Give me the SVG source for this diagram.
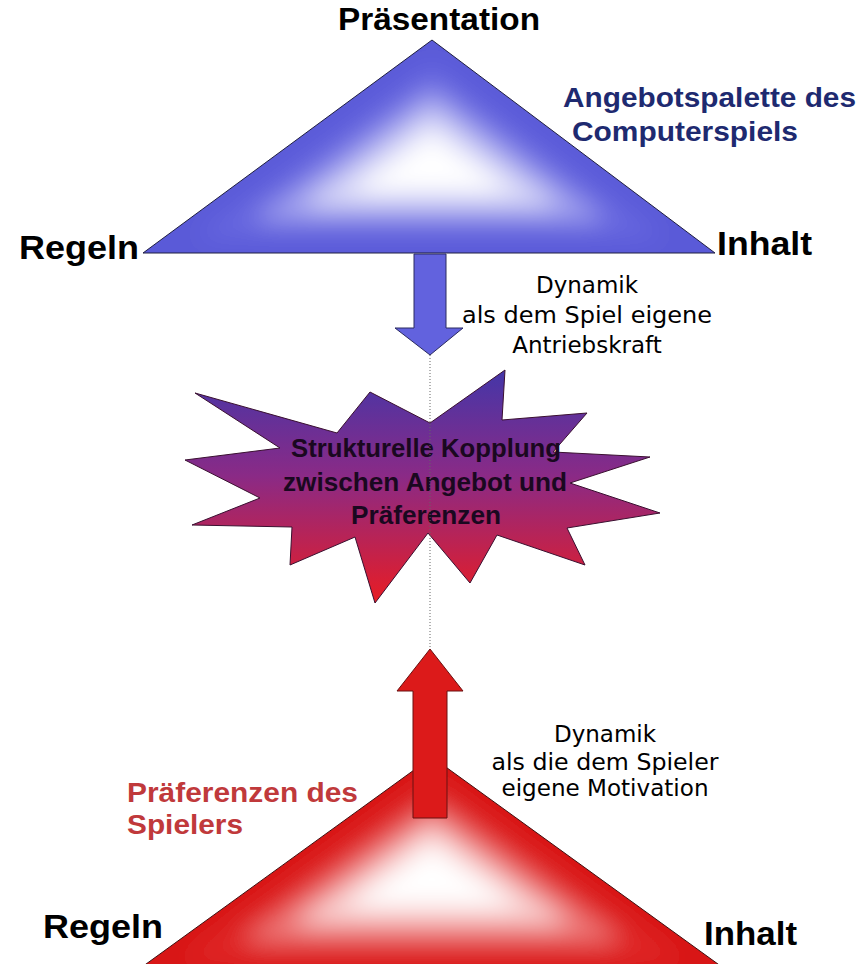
<svg xmlns="http://www.w3.org/2000/svg" xmlns:xlink="http://www.w3.org/1999/xlink" width="864" height="964" viewBox="0 0 864 964">
<style>
.lbl{font-family:"Liberation Sans",Arial,sans-serif;font-weight:bold;fill:#000}
.blue{font-family:"Liberation Sans",Arial,sans-serif;font-weight:bold;fill:#1e2a70}
.red{font-family:"Liberation Sans",Arial,sans-serif;font-weight:bold;fill:#c0393b}
.dyn{font-family:"DejaVu Sans","Liberation Sans",sans-serif;font-size:23px;fill:#000;text-anchor:middle}
.star{font-family:"Liberation Sans",Arial,sans-serif;font-weight:bold;font-size:25px;fill:#1a0820;text-anchor:middle}
</style>
<defs>
<polygon id="triT" points="432,40 143,253 715,253"/>
<polygon id="triB" points="432,757 124,980 740,980"/>
<clipPath id="clipT"><use xlink:href="#triT"/></clipPath>
<clipPath id="clipB"><use xlink:href="#triB"/></clipPath>
<filter id="soft" x="-20%" y="-20%" width="140%" height="140%"><feGaussianBlur stdDeviation="12"/></filter>
<linearGradient id="starGrad" gradientUnits="userSpaceOnUse" x1="0" y1="370" x2="0" y2="605">
<stop offset="0" stop-color="#4436a8"/>
<stop offset="0.45" stop-color="#8a2a86"/>
<stop offset="1" stop-color="#ea1c22"/>
</linearGradient>
</defs>
<rect width="864" height="964" fill="#fff"/>

<g id="node-top-triangle">
<g clip-path="url(#clipT)">
<g filter="url(#soft)">
<use xlink:href="#triT" fill="#5a5ad8" transform="translate(432 168) scale(1.5) translate(-432 -168)"/>
<use xlink:href="#triT" fill="#6868e0" transform="translate(432 168) scale(0.82) translate(-432 -168)"/>
<use xlink:href="#triT" fill="#a0a0ee" transform="translate(432 168) scale(0.62) translate(-432 -168)"/>
<use xlink:href="#triT" fill="#dadaf8" transform="translate(432 168) scale(0.45) translate(-432 -168)"/>
<use xlink:href="#triT" fill="#ffffff" transform="translate(432 168) scale(0.28) translate(-432 -168)"/>
</g>
</g>
<use xlink:href="#triT" fill="none" stroke="#1e1e40" stroke-width="1"/>
</g>

<g id="node-bottom-triangle">
<g clip-path="url(#clipB)">
<g filter="url(#soft)">
<use xlink:href="#triB" fill="#d81818" transform="translate(432 878) scale(1.5) translate(-432 -878)"/>
<use xlink:href="#triB" fill="#e02626" transform="translate(432 878) scale(0.82) translate(-432 -878)"/>
<use xlink:href="#triB" fill="#ee7878" transform="translate(432 878) scale(0.62) translate(-432 -878)"/>
<use xlink:href="#triB" fill="#f9d2d2" transform="translate(432 878) scale(0.45) translate(-432 -878)"/>
<use xlink:href="#triB" fill="#ffffff" transform="translate(432 878) scale(0.28) translate(-432 -878)"/>
</g>
</g>
<use xlink:href="#triB" fill="none" stroke="#401010" stroke-width="1"/>
</g>

<g id="node-starburst">
<polygon points="195,393 337,433 370,392 430,423 505,370 502,420 587,413 553,452 650,457 570,483 660,513 567,528 585,565 497,535 470,583 428,533 375,603 355,537 290,565 292,527 192,525 260,498 185,460 280,448" fill="url(#starGrad)" stroke="#3a1030" stroke-width="1"/>
<text class="star" x="426" y="457" textLength="270" lengthAdjust="spacingAndGlyphs">Strukturelle Kopplung</text>
<text class="star" x="425" y="491" textLength="284" lengthAdjust="spacingAndGlyphs">zwischen Angebot und</text>
<text class="star" x="426" y="524" textLength="150" lengthAdjust="spacingAndGlyphs">Präferenzen</text>
</g>

<g id="connectors">
<line x1="430" y1="355" x2="430" y2="649" stroke="#666" stroke-width="1" stroke-dasharray="1 2"/>
<polygon id="arrow-down" points="414,254 446,254 446,328 463,328 430,355 395,328 414,328" fill="#6262de" stroke="#2a2a60" stroke-width="1"/>
<polygon id="arrow-up" points="430,649 463,691 447,691 447,818 413,818 413,691 397,691" fill="#dc1a1a" stroke="#6a1010" stroke-width="1"/>
</g>

<g id="label-praesentation"><text class="lbl" x="338" y="30" font-size="32" textLength="202" lengthAdjust="spacingAndGlyphs">Präsentation</text></g>
<g id="label-regeln-top"><text class="lbl" x="19" y="259" font-size="34" textLength="120" lengthAdjust="spacingAndGlyphs">Regeln</text></g>
<g id="label-inhalt-top"><text class="lbl" x="717" y="255" font-size="34" textLength="95" lengthAdjust="spacingAndGlyphs">Inhalt</text></g>
<g id="label-angebot">
<text class="blue" x="563" y="107" font-size="28" textLength="293" lengthAdjust="spacingAndGlyphs">Angebotspalette des</text>
<text class="blue" x="572" y="141" font-size="28" textLength="226" lengthAdjust="spacingAndGlyphs">Computerspiels</text>
</g>
<g id="label-dynamik-spiel">
<text class="dyn" x="587" y="293">Dynamik</text>
<text class="dyn" x="587" y="323" textLength="250" lengthAdjust="spacingAndGlyphs">als dem Spiel eigene</text>
<text class="dyn" x="587" y="353">Antriebskraft</text>
</g>
<g id="label-dynamik-spieler">
<text class="dyn" x="605" y="742">Dynamik</text>
<text class="dyn" x="605" y="770" textLength="227" lengthAdjust="spacingAndGlyphs">als die dem Spieler</text>
<text class="dyn" x="605" y="796" textLength="207" lengthAdjust="spacingAndGlyphs">eigene Motivation</text>
</g>
<g id="label-praeferenzen">
<text class="red" x="127" y="802" font-size="28" textLength="231" lengthAdjust="spacingAndGlyphs">Präferenzen des</text>
<text class="red" x="127" y="834" font-size="28" textLength="116" lengthAdjust="spacingAndGlyphs">Spielers</text>
</g>
<g id="label-regeln-bottom"><text class="lbl" x="43" y="938" font-size="33" textLength="120" lengthAdjust="spacingAndGlyphs">Regeln</text></g>
<g id="label-inhalt-bottom"><text class="lbl" x="704" y="945" font-size="34" textLength="93" lengthAdjust="spacingAndGlyphs">Inhalt</text></g>
</svg>
